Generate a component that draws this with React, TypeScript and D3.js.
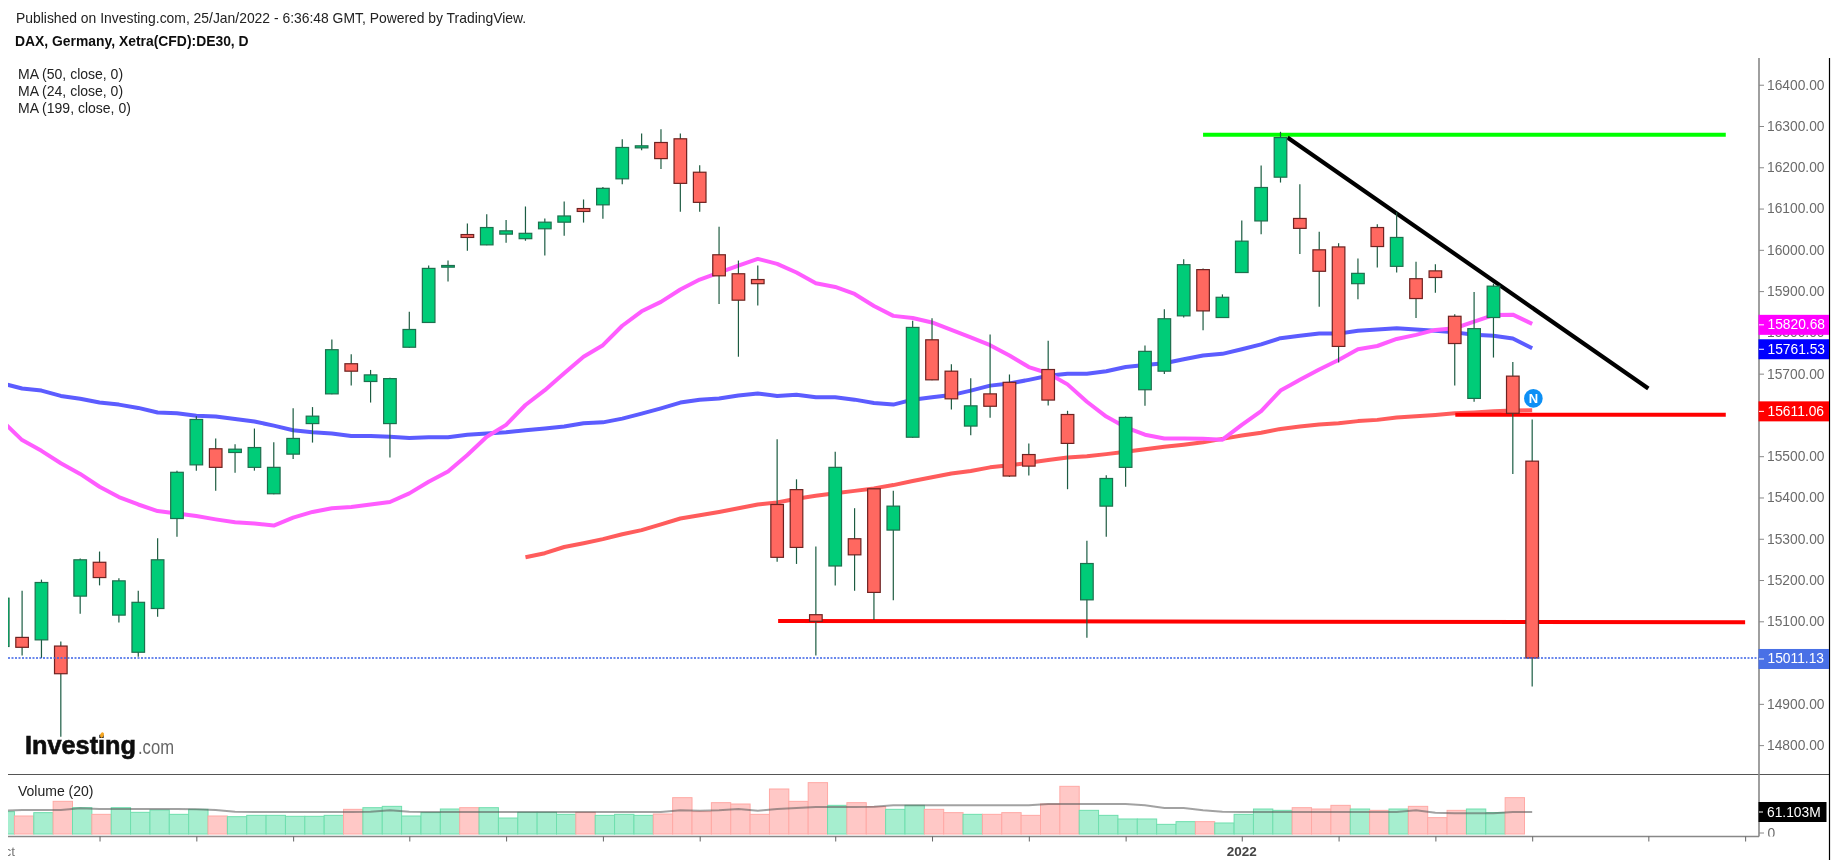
import React, { useRef, useEffect } from "react";
import * as d3 from "d3";

const opens = [15039,15061,15055,15040,15161,15243,15115,15025,15131,15349,15479,15518,15509,15473,15409,15505,15579,15651,15724,15681,15579,15764,15824,15958,16037,16012,16038,16027,16051,16067,16100,16109,16172,16247,16260,16269,16188,15988,15942,15928,15383,15419,15116,15234,15300,15421,15321,15546,15782,15706,15573,15651,15679,15504,15710,15601,15152,15379,15473,15661,15706,15840,15952,15836,15945,16070,16176,16076,16000,16007,15918,16054,15960,15930,15949,15839,15640,15836,15694,15488];
const highs = [15160,15174,15201,15051,15252,15269,15204,15174,15301,15465,15597,15543,15529,15567,15534,15616,15619,15783,15747,15709,15690,15850,15962,15974,16064,16086,16072,16105,16076,16117,16122,16152,16268,16282,16292,16282,16205,16056,15974,15962,15541,15444,15281,15511,15374,15421,15416,15828,15834,15723,15689,15795,15698,15531,15780,15610,15295,15454,15596,15768,15856,15977,15955,15892,16071,16204,16286,16159,16044,16016,15979,16062,16091,15971,15965,15844,15898,15918,15728,15589];
const lows = [15030,15017,15011,14820,15118,15187,15097,15014,15111,15305,15465,15416,15460,15465,15408,15493,15533,15650,15671,15630,15497,15763,15823,15923,15998,16011,16017,16022,15986,16034,16066,16075,16159,16241,16196,16092,16092,15869,15741,15865,15244,15239,15017,15187,15174,15103,15151,15545,15684,15613,15551,15593,15450,15453,15623,15420,15060,15305,15426,15622,15699,15836,15805,15836,15945,16038,16163,15990,15862,15727,15880,15957,15945,15835,15896,15671,15632,15739,15457,14942];
const closes = [15156,15037,15194,14973,15249,15206,15198,15146,15249,15461,15589,15473,15517,15521,15473,15543,15597,15758,15706,15697,15688,15807,15955,15962,16030,16054,16046,16040,16067,16082,16093,16149,16248,16252,16221,16161,16115,15937,15878,15918,15255,15279,15100,15473,15261,15170,15379,15812,15685,15639,15622,15621,15452,15476,15636,15531,15240,15446,15594,15754,15833,15964,15852,15885,16021,16151,16272,16052,15948,15766,15943,16008,16030,15882,15933,15773,15809,15912,15604,15011.13];

// moving averages, one value per candle (ma199 only starts at candle 27)
const ma50 = [15676,15664,15659,15646,15639,15630,15625,15617,15606,15604,15598,15596,15590,15584,15574,15563,15558,15555,15549,15549,15547,15544,15546,15546,15552,15555,15558,15563,15567,15572,15580,15582,15591,15603,15616,15630,15637,15640,15647,15652,15646,15649,15643,15643,15637,15629,15625,15637,15643,15648,15659,15671,15676,15685,15695,15700,15700,15706,15716,15721,15725,15735,15744,15748,15759,15771,15786,15792,15797,15797,15804,15807,15810,15807,15804,15800,15794,15792,15785,15761.53];
const ma24 = [15584,15539,15513,15483,15457,15426,15401,15383,15367,15361,15355,15347,15340,15337,15332,15351,15365,15374,15377,15383,15389,15410,15438,15463,15503,15547,15576,15624,15660,15701,15741,15769,15816,15851,15874,15904,15928,15945,15962,15978,15966,15945,15919,15910,15893,15864,15840,15835,15824,15806,15788,15769,15744,15716,15701,15674,15632,15596,15570,15552,15543,15543,15542,15540,15576,15609,15659,15685,15710,15733,15759,15767,15784,15794,15806,15810,15826,15842,15843,15820.68];
const ma199Start = 27;
const ma199 = [15255,15265,15280,15289,15299,15311,15321,15335,15349,15357,15365,15374,15383,15388,15397,15404,15410,15416,15422,15430,15440,15449,15458,15464,15473,15478,15484,15491,15497,15500,15505,15511,15517,15523,15528,15534,15542,15550,15557,15566,15572,15577,15580,15585,15588,15594,15597,15600,15604,15606,15609,15611,15611.06];

// volume in millions, the last candle has no bar yet
const volumes = [62,50,59.3,90.7,73.1,54.6,73.1,60.2,66.7,54.6,68.5,50,48.1,51.8,51.8,49.1,49.1,51.8,68.5,73.1,76.8,50,59.3,69.4,73.1,73.1,44.4,60.2,60.2,54.6,60.2,51.8,54.6,51.8,55.5,100.9,62,87,83.3,54.6,125,90.7,142.6,79.6,87,75.9,68.5,79.6,68.5,59.3,54.6,54.6,59.3,51.8,83.3,132.4,65.7,51.8,41.7,41.7,26.8,34.3,34.3,30.6,54.6,69.4,65.7,73.1,69.4,79.6,69.4,65.7,69.4,76.8,45.4,65.7,69.4,59.3,100.9];
const volumeMa = [64.8,66.7,66.7,66.7,71.3,69.4,69.4,69.4,69.4,69.4,68.5,66.7,62,61.1,61.1,61.1,61.1,61.1,61.1,62,65.7,62,61.1,61.1,61.1,61.1,61.1,61.1,61.1,61.1,61.1,61.1,61.1,61.1,61.1,65.7,64.8,65.7,69.4,64.8,69.4,72.2,75,75,75,75.9,79.6,79.6,79.6,79.6,79.6,79.6,79.6,79.6,83.3,83.3,83.3,83.3,83.3,79.6,72.2,72.2,65.7,62,61.1,61.1,61.1,61.1,61.1,61.1,61.1,61.1,61.1,65.7,59.3,57.4,57.4,57.4,61.1,61.1];
const volumeUp = closes.map((c, i) => c >= opens[i]);

const priceTicks = [16400,16300,16200,16100,16000,15900,15800,15700,15500,15400,15300,15200,15100,14900,14800];
const timeTicks = [5,10,15,21,26,31,36,43,48,53,58,64,69,74,79,85,90];
const yearTick = 64;
const indicators = ["MA (50, close, 0)", "MA (24, close, 0)", "MA (199, close, 0)"];

// drawn trend lines: [candle position, price]
const greenLine = [[62, 16279], [89, 16279]];
const blackLine = [[66.36, 16272], [85, 15664]];
const redHigh = [[75.03, 15600.6], [89, 15600.6]];
const redLow = [[40.05, 15100.7], [90, 15097.5]];
const newsMark = [79.06, 15640];

const lastPrice = 15011.13;
const priceTags = [
  { value: 15820.68, fill: "#ff00ff" },
  { value: 15761.53, fill: "#0000ff" },
  { value: 15611.06, fill: "#ff0000" },
  { value: lastPrice, fill: "#4a70e6" },
];

const WIDTH = 1837;
const HEIGHT = 865;
const FONT = "'Liberation Sans', Arial, sans-serif";

const App: React.FC = () => {
  const svgRef = useRef<SVGSVGElement>(null);

  useEffect(() => {
    if (!svgRef.current) return;
    const root = d3.select(svgRef.current);
    root.selectAll("*").remove();

    const left = 8;
    const axisX = 1759;
    const top = 58;
    const paneY = 774.5;
    const bottom = 836.5;
    const rightEdge = 1829.5;
    const step = 19.36;

    const x = d3.scaleLinear().domain([0, 79]).range([2.74, 2.74 + 79 * step]);
    const y = d3.scaleLinear().domain([16300, 15100]).range([126, 621.3]);
    const v = d3.scaleLinear().domain([0, 61.103]).range([834, 812]);

    const defs = root.append("defs");
    const clip = (id: string, x0: number, y0: number, w: number, h: number) =>
      defs.append("clipPath").attr("id", id).append("rect")
        .attr("x", x0).attr("y", y0).attr("width", w).attr("height", h);
    clip("plot", left, top, axisX - left, paneY - top);
    clip("vol", left, paneY, axisX - left, bottom - paneY);
    clip("axisText", axisX, top, WIDTH - axisX, bottom - top);
    clip("timeText", left, bottom, WIDTH - left, HEIGHT - bottom);

    // The source picture is an enlarged screenshot, so everything is a little soft
    defs.append("filter").attr("id", "soft")
      .attr("filterUnits", "userSpaceOnUse")
      .attr("x", 0).attr("y", 0).attr("width", WIDTH).attr("height", HEIGHT)
      .append("feGaussianBlur").attr("stdDeviation", 0.35);
    const svg = root.append("g").attr("filter", "url(#soft)");

    const text = (
      parent: d3.Selection<any, any, any, any>,
      str: string,
      px: number,
      py: number,
      size: number,
      fill: string,
      weight = "normal"
    ) =>
      parent.append("text").text(str)
        .attr("x", px).attr("y", py)
        .attr("font-family", FONT).attr("font-size", size)
        .attr("font-weight", weight).attr("fill", fill)
        .attr("dominant-baseline", "central");

    // Header and legend
    text(svg, "Published on Investing.com, 25/Jan/2022 - 6:36:48 GMT, Powered by TradingView.", 16, 17.7, 13.9, "#222");
    text(svg, "DAX, Germany, Xetra(CFD):DE30, D", 15, 40.7, 13.9, "#111", "bold");
    indicators.forEach((d, i) => text(svg, d, 18, 73.7 + i * 17, 14, "#222"));

    // Volume pane
    const volG = svg.append("g").attr("clip-path", "url(#vol)");
    volG.selectAll("rect").data(volumes).join("rect")
      .attr("x", (_, i) => x(i) + 2 - step / 2)
      .attr("width", step)
      .attr("y", (d) => v(d))
      .attr("height", (d) => v(0) - v(d))
      .attr("fill", (_, i) => (volumeUp[i] ? "#a6eecf" : "#ffc8c6"))
      .attr("stroke", (_, i) => (volumeUp[i] ? "#6fdfae" : "#ffa9a5"))
      .attr("stroke-width", 1);
    const volLine = d3.line<number>().x((_, i) => x(i)).y((d) => v(d));
    volG.append("path").attr("d", volLine(volumeMa))
      .attr("fill", "none").attr("stroke", "#555").attr("stroke-opacity", 0.55).attr("stroke-width", 2);
    text(svg, "Volume (20)", 18, 790.7, 14, "#222");

    // Moving averages
    const plot = svg.append("g").attr("clip-path", "url(#plot)");
    const maLine = (start: number) =>
      d3.line<number>().x((_, i) => x(i + start)).y((d) => y(d));
    const drawMa = (values: number[], start: number, color: string) =>
      plot.append("path").attr("d", maLine(start)(values))
        .attr("fill", "none").attr("stroke", color).attr("stroke-width", 4)
        .attr("stroke-linejoin", "round");
    drawMa(ma199, ma199Start, "#ff5c5c");
    drawMa(ma50, 0, "#5c5cff");
    drawMa(ma24, 0, "#ff5cff");

    // Trend lines go under the candles
    const trend = d3.line<number[]>().x((d) => x(d[0])).y((d) => y(d[1]));
    const drawTrend = (pts: number[][], color: string, w: number) =>
      plot.append("path").attr("d", trend(pts)).attr("fill", "none").attr("stroke", color).attr("stroke-width", w);
    drawTrend(greenLine, "#00ff00", 4);
    drawTrend(redHigh, "#ff0000", 4);
    drawTrend(redLow, "#ff0000", 4);
    drawTrend(blackLine, "#000000", 4.2);

    // Candles
    const candles = plot.selectAll("g.candle").data(opens).join("g").attr("class", "candle");
    candles.append("line")
      .attr("x1", (_, i) => x(i)).attr("x2", (_, i) => x(i))
      .attr("y1", (_, i) => y(highs[i])).attr("y2", (_, i) => y(lows[i]))
      .attr("stroke", "#1d5c42").attr("stroke-width", 1.2);
    candles.append("rect")
      .attr("x", (_, i) => x(i) - 6.3)
      .attr("width", 12.6)
      .attr("y", (_, i) => y(Math.max(opens[i], closes[i])))
      .attr("height", (_, i) => Math.max(1.5, Math.abs(y(opens[i]) - y(closes[i]))))
      .attr("fill", (_, i) => (closes[i] >= opens[i] ? "#00cc78" : "#ff6860"))
      .attr("stroke", (_, i) => (closes[i] >= opens[i] ? "#1f6f4e" : "#6e2320"))
      .attr("stroke-width", 1.2);

    // Last price line
    plot.append("line")
      .attr("x1", left).attr("x2", axisX)
      .attr("y1", y(lastPrice)).attr("y2", y(lastPrice))
      .attr("stroke", "#3a62e6").attr("stroke-width", 1.3).attr("stroke-dasharray", "2,1.5");

    // News marker
    plot.append("circle")
      .attr("cx", x(newsMark[0])).attr("cy", y(newsMark[1])).attr("r", 9.3)
      .attr("fill", "#0a8ff5");
    text(plot, "N", x(newsMark[0]), y(newsMark[1]), 13, "#fff", "bold").attr("text-anchor", "middle");

    // Logo
    const logo = svg.append("g").attr("font-family", FONT);
    logo.append("text").text("Investing").attr("x", 25).attr("y", 753.5)
      .attr("font-size", 25).attr("font-weight", "bold").attr("fill", "#0c0c0c")
      .attr("stroke", "#0c0c0c").attr("stroke-width", 0.6)
      .attr("textLength", 111).attr("lengthAdjust", "spacingAndGlyphs");
    logo.append("text").text(".com").attr("x", 138).attr("y", 753.5)
      .attr("font-size", 20).attr("fill", "#666")
      .attr("textLength", 36).attr("lengthAdjust", "spacingAndGlyphs");
    logo.append("ellipse").attr("cx", 102).attr("cy", 735).attr("rx", 1.8).attr("ry", 2.8)
      .attr("transform", "rotate(25 102 735)").attr("fill", "#f5a623");

    // Frame lines
    const frame = (x1: number, y1: number, x2: number, y2: number, color: string, w: number) =>
      svg.append("line").attr("x1", x1).attr("y1", y1).attr("x2", x2).attr("y2", y2)
        .attr("stroke", color).attr("stroke-width", w);
    frame(left, paneY, rightEdge, paneY, "#555", 1.2);
    frame(left, bottom, axisX, bottom, "#888", 1.6);
    frame(axisX, top, axisX, bottom, "#888", 1.6);
    frame(rightEdge, top, rightEdge, 860, "#000", 1.2);

    // Right price axis
    const priceAxis = d3.axisRight(y)
      .tickValues(priceTicks)
      .tickSize(5)
      .tickPadding(3)
      .tickFormat((d) => d3.format(".2f")(d as number));
    const axisG = svg.append("g").attr("transform", `translate(${axisX},0)`).call(priceAxis);
    axisG.select(".domain").remove();
    axisG.selectAll("line").attr("stroke", "#888");
    axisG.selectAll("text").attr("font-family", FONT).attr("font-size", 13.8).attr("fill", "#6b6b6b");

    // Price tags
    priceTags.forEach((t) => {
      const py = y(t.value) + 1;
      svg.append("rect").attr("x", axisX - 0.5).attr("y", py - 10).attr("width", rightEdge - axisX).attr("height", 20).attr("fill", t.fill);
      svg.append("line").attr("x1", axisX).attr("x2", axisX + 5).attr("y1", py).attr("y2", py).attr("stroke", "#fff");
      text(svg, d3.format(".2f")(t.value), axisX + 8.5, py, 13.8, "#fff");
    });

    // Volume axis
    const volTag = svg.append("g");
    volTag.append("rect").attr("x", axisX - 0.5).attr("y", v(61.103) - 10).attr("width", 68).attr("height", 20).attr("fill", "#000");
    volTag.append("line").attr("x1", axisX).attr("x2", axisX + 4).attr("y1", v(61.103)).attr("y2", v(61.103)).attr("stroke", "#fff");
    text(volTag, "61.103M", axisX + 8, v(61.103), 13.8, "#fff");
    frame(axisX, v(0) - 1, axisX + 5, v(0) - 1, "#888", 1);
    text(svg.append("g").attr("clip-path", "url(#axisText)"), "0", axisX + 8.5, v(0) - 1, 13.8, "#6b6b6b");

    // Time axis, only the year and the clipped month carry a label here
    const timeAxis = d3.axisBottom(x).tickValues(timeTicks).tickSize(5).tickFormat(() => "");
    const timeG = svg.append("g").attr("transform", `translate(0,${bottom})`).call(timeAxis);
    timeG.select(".domain").remove();
    timeG.selectAll("line").attr("stroke", "#666");
    const timeText = svg.append("g").attr("clip-path", "url(#timeText)");
    text(timeText, "2022", x(yearTick), 851, 13.5, "#444", "bold").attr("text-anchor", "middle");
    text(timeText, "Oct", 15, 851, 13.5, "#777").attr("text-anchor", "end");
  }, []);

  return (
    <svg
      ref={svgRef}
      width={WIDTH}
      height={HEIGHT}
      style={{ position: "absolute", left: 0, top: 0, background: "#fff" }}
    />
  );
};

export default App;
